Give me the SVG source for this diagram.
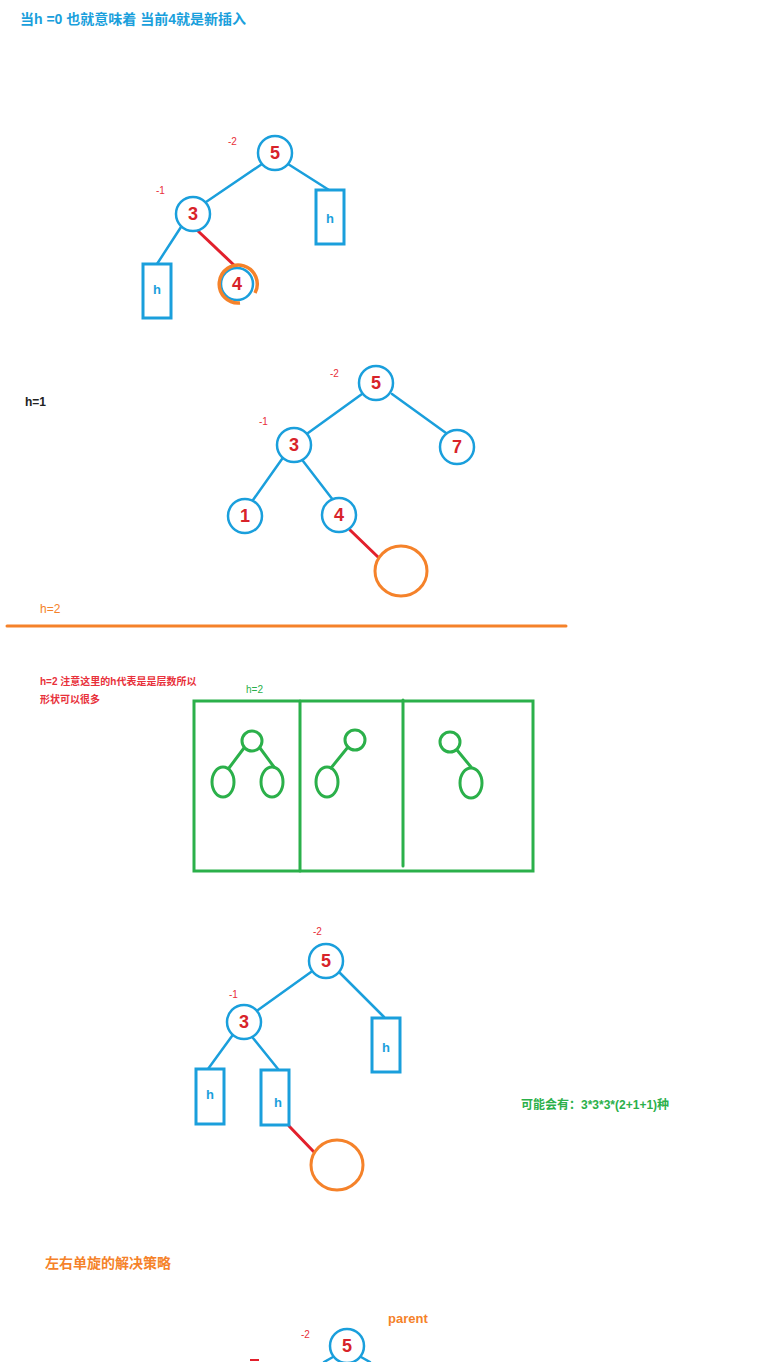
<svg xmlns="http://www.w3.org/2000/svg" width="765" height="1362" viewBox="0 0 765 1362">
<style>
.bg{fill:#fff}
.nd{fill:#fff;stroke:#1a9fdc;stroke-width:2.5}
.bx{fill:#fff;stroke:#1a9fdc;stroke-width:3}
.e{stroke:#1a9fdc;stroke-width:2.5;fill:none;stroke-linecap:round}
.re{stroke:#e2202c;stroke-width:3;fill:none;stroke-linecap:round}
.oc{fill:#fff;stroke:#f5822a;stroke-width:3}
.g{fill:none;stroke:#2bb04a;stroke-width:3}
.ge{stroke:#2bb04a;stroke-width:3;fill:none;stroke-linecap:round}
.num{font-family:"Liberation Sans","Noto Sans CJK SC",sans-serif;font-weight:bold;font-size:18px;fill:#d8232a;text-anchor:middle}
.hb{font-family:"Liberation Sans",sans-serif;font-weight:bold;font-size:13px;fill:#1a9fdc;text-anchor:middle}
.bf{font-family:"Liberation Sans",sans-serif;font-size:10px;fill:#e8303a}
.t{font-family:"Liberation Sans","Noto Sans CJK SC",sans-serif;font-weight:bold}
</style>
<rect class="bg" x="0" y="0" width="765" height="1362"/>
<text class="t" x="20" y="24" font-size="14" fill="#1a9fdc">当h =0 也就意味着 当前4就是新插入</text>

<g id="connectors">
  <line class="e" x1="262" y1="164" x2="206" y2="202"/>
  <line class="e" x1="288" y1="164" x2="329" y2="190"/>
  <line class="e" x1="181" y1="227" x2="157" y2="264"/>
  <line class="re" x1="198" y1="231" x2="236" y2="267"/>

  <line class="e" x1="362" y1="394" x2="308" y2="433"/>
  <line class="e" x1="392" y1="394" x2="446" y2="433"/>
  <line class="e" x1="282" y1="459" x2="253" y2="500"/>
  <line class="e" x1="303" y1="461" x2="333" y2="500"/>
  <line class="re" x1="350" y1="530" x2="378" y2="557"/>

  <line class="e" x1="311" y1="972" x2="258" y2="1010"/>
  <line class="e" x1="340" y1="973" x2="384" y2="1017"/>
  <line class="e" x1="232" y1="1036" x2="208" y2="1069"/>
  <line class="e" x1="253" y1="1038" x2="278" y2="1069"/>
  <line class="re" x1="289" y1="1126" x2="314" y2="1152"/>

  <line class="e" x1="333" y1="1357" x2="324" y2="1362"/>
  <line class="e" x1="361" y1="1357" x2="370" y2="1362"/>
</g>

<!-- tree 1 -->
<text class="bf" x="228" y="145">-2</text>
<text class="bf" x="156" y="194">-1</text>
<g id="t1n5"><circle class="nd" cx="275" cy="153" r="17"/><text class="num" x="275" y="159">5</text></g>
<g id="t1n3"><circle class="nd" cx="193" cy="214" r="17"/><text class="num" x="193" y="220">3</text></g>
<g id="t1hr"><rect class="bx" x="316" y="190" width="28" height="54"/><text class="hb" x="330" y="223">h</text></g>
<g id="t1hl"><rect class="bx" x="143" y="264" width="28" height="54"/><text class="hb" x="157" y="294">h</text></g>
<g id="t1n4"><circle class="nd" cx="237" cy="284" r="16"/><path d="M255 293 A19 19 0 1 0 240 303" fill="none" stroke="#f5822a" stroke-width="3.5"/><text class="num" x="237" y="290">4</text></g>

<!-- tree 2 -->
<text class="t" x="25" y="406" font-size="12" fill="#222">h=1</text>
<text class="bf" x="330" y="377">-2</text>
<text class="bf" x="259" y="425">-1</text>
<g id="t2n5"><circle class="nd" cx="376" cy="383" r="17"/><text class="num" x="376" y="389">5</text></g>
<g id="t2n3"><circle class="nd" cx="294" cy="445" r="17"/><text class="num" x="294" y="451">3</text></g>
<g id="t2n7"><circle class="nd" cx="457" cy="447" r="17"/><text class="num" x="457" y="453">7</text></g>
<g id="t2n1"><circle class="nd" cx="245" cy="516" r="17"/><text class="num" x="245" y="522">1</text></g>
<g id="t2n4"><circle class="nd" cx="339" cy="515" r="17"/><text class="num" x="339" y="521">4</text></g>
<g id="t2new"><ellipse class="oc" cx="401" cy="571" rx="26" ry="25"/></g>

<text x="40" y="613" font-family="Liberation Sans,sans-serif" font-size="12" fill="#f5822a">h=2</text>
<line x1="7" y1="626" x2="566" y2="626" stroke="#f5822a" stroke-width="3" stroke-linecap="round"/>

<!-- h=2 shapes -->
<text class="t" x="40" y="685" font-size="10" fill="#e8303a">h=2  注意这里的h代表是是层数所以</text>
<text class="t" x="40" y="703" font-size="10" fill="#e8303a">形状可以很多</text>
<text x="246" y="693" font-family="Liberation Sans,sans-serif" font-size="10" fill="#2bb04a">h=2</text>
<g id="shapes">
  <rect class="g" x="194" y="701" width="339" height="170"/>
  <line class="ge" x1="300" y1="701" x2="300" y2="871"/>
  <line class="ge" x1="403" y1="700" x2="403" y2="866"/>
  <circle class="g" cx="252" cy="741" r="10"/>
  <ellipse class="g" cx="223" cy="782" rx="11" ry="15"/>
  <ellipse class="g" cx="272" cy="782" rx="11" ry="15"/>
  <line class="ge" x1="244" y1="748" x2="229" y2="768"/>
  <line class="ge" x1="260" y1="748" x2="274" y2="767"/>
  <circle class="g" cx="355" cy="740" r="10"/>
  <ellipse class="g" cx="327" cy="782" rx="11" ry="15"/>
  <line class="ge" x1="348" y1="747" x2="331" y2="768"/>
  <circle class="g" cx="450" cy="742" r="10"/>
  <ellipse class="g" cx="471" cy="783" rx="11" ry="15"/>
  <line class="ge" x1="457" y1="750" x2="471" y2="767"/>
</g>

<!-- tree 3 -->
<text class="bf" x="313" y="935">-2</text>
<text class="bf" x="229" y="998">-1</text>
<g id="t3n5"><circle class="nd" cx="326" cy="961" r="17"/><text class="num" x="326" y="967">5</text></g>
<g id="t3n3"><circle class="nd" cx="244" cy="1022" r="17"/><text class="num" x="244" y="1028">3</text></g>
<g id="t3hr"><rect class="bx" x="372" y="1018" width="28" height="54"/><text class="hb" x="386" y="1052">h</text></g>
<g id="t3hl"><rect class="bx" x="196" y="1069" width="28" height="55"/><text class="hb" x="210" y="1099">h</text></g>
<g id="t3hm"><rect class="bx" x="261" y="1070" width="28" height="55"/><text class="hb" x="278" y="1107">h</text></g>
<g id="t3new"><ellipse class="oc" cx="337" cy="1165" rx="26" ry="25"/></g>

<text class="t" x="521" y="1109" font-size="12" fill="#2bb04a">可能会有：3*3*3*(2+1+1)种</text>

<text class="t" x="45" y="1268" font-size="14" fill="#f5822a">左右单旋的解决策略</text>
<text class="t" x="388" y="1323" font-size="13" fill="#f5822a">parent</text>
<text class="bf" x="301" y="1338">-2</text>
<g id="t4n5"><circle class="nd" cx="347" cy="1346" r="17"/><text class="num" x="347" y="1352">5</text></g>
<line x1="250" y1="1360" x2="259" y2="1360" stroke="#e2202c" stroke-width="2"/>
</svg>
